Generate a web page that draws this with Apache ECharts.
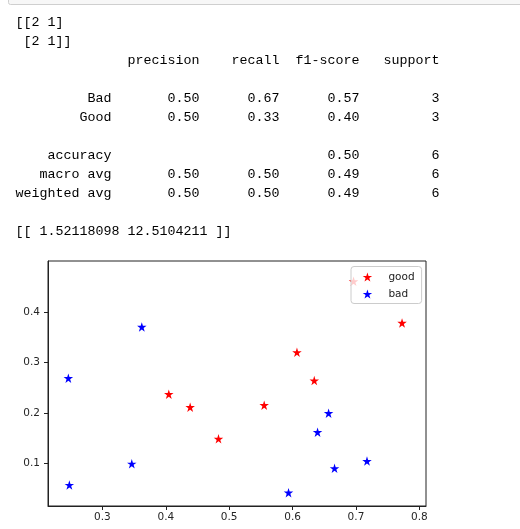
<!DOCTYPE html>
<html><head><meta charset="utf-8">
<script src="https://cdn.jsdelivr.net/npm/echarts@6/dist/echarts.min.js"></script>
<style>html,body{margin:0;padding:0;background:#fff;}#c{width:520px;height:529px;}</style>
</head><body><div id="c"></div>
<script>
// ---- console output values ----
const confusion = [[2, 1], [2, 1]];
const classLabels = ['Bad', 'Good'];
const precision = [0.50, 0.50];
const recall = [0.67, 0.33];
const f1 = [0.57, 0.40];
const support = [3, 3];
const accuracy = 0.50;
const macroAvg = [0.50, 0.50, 0.49];
const weightedAvg = [0.50, 0.50, 0.49];
const totalSupport = 6;
const coef = [1.52118098, 12.5104211];

// ---- scatter values ----
const goodX = [0.4047, 0.4384, 0.4831, 0.5552, 0.6069, 0.6342, 0.7727, 0.6962];
const goodY = [0.2375, 0.2118, 0.1493, 0.2158, 0.3203, 0.2645, 0.3783, 0.4606];
const badX = [0.3621, 0.2462, 0.3463, 0.2478, 0.6568, 0.6394, 0.7174, 0.6662, 0.5936];
const badY = [0.3704, 0.2690, 0.1000, 0.0580, 0.2000, 0.1625, 0.1053, 0.0909, 0.0428];
const xTicks = [0.3, 0.4, 0.5, 0.6, 0.7, 0.8];
const yTicks = [0.1, 0.2, 0.3, 0.4];
const seriesNames = ['good', 'bad'];

// ---- build console text lines ----
const f2 = v => v.toFixed(2);
const lines = [];
lines.push('[[' + confusion[0].join(' ') + ']');
lines.push(' [' + confusion[1].join(' ') + ']]');
lines.push(''.padStart(12) + ' ' + ['precision', 'recall', 'f1-score', 'support'].map(h => ' ' + h.padStart(9)).join(''));
lines.push('');
classLabels.forEach((lab, i) => {
  lines.push(lab.padStart(12) + ' ' + [precision[i], recall[i], f1[i]].map(v => ' ' + f2(v).padStart(9)).join('') + ' ' + String(support[i]).padStart(9));
});
lines.push('');
lines.push('accuracy'.padStart(12) + ' ' + ' ' + ''.padStart(9) + ' ' + ''.padStart(9) + ' ' + f2(accuracy).padStart(9) + ' ' + String(totalSupport).padStart(9));
lines.push('macro avg'.padStart(12) + ' ' + macroAvg.map(v => ' ' + f2(v).padStart(9)).join('') + ' ' + String(totalSupport).padStart(9));
lines.push('weighted avg'.padStart(12) + ' ' + weightedAvg.map(v => ' ' + f2(v).padStart(9)).join('') + ' ' + String(totalSupport).padStart(9));
lines.push('');
lines.push('[[ ' + coef.map(String).join(' ') + ' ]]');

const monoFont = '13.33px "Liberation Mono", "DejaVu Sans Mono", monospace';
const graphics = [
  { type: 'rect', shape: { x: 8.5, y: -20, width: 530, height: 24.5, r: 2 },
    style: { fill: '#f7f7f7', stroke: '#cfcfcf', lineWidth: 1 }, silent: true }
];
lines.forEach((t, i) => {
  if (!t) return;
  graphics.push({
    type: 'text', x: 15.5, y: 22.5 + 19 * i, silent: true,
    style: { text: t, font: monoFont, fill: '#000', align: 'left', verticalAlign: 'middle',
             textAlign: 'left', textVerticalAlign: 'middle' }
  });
});

const star = 'path://M50 0 L61.23 34.55 L97.55 34.55 L68.17 55.9 L79.39 90.45 L50 69.1 L20.61 90.45 L31.83 55.9 L2.45 34.55 L38.77 34.55 Z';
const axisColor = '#222';
const labelStyle = { fontSize: 10.5, fontFamily: 'DejaVu Sans', color: '#262626' };

const chart = echarts.init(document.getElementById('c'), null, { renderer: 'canvas' });
chart.setOption({
  animation: false,
  backgroundColor: '#fff',
  graphic: graphics,
  grid: { left: 48, top: 261, width: 378, height: 245, show: true, borderColor: axisColor, borderWidth: 1, backgroundColor: 'transparent' },
  xAxis: {
    type: 'value', min: 0.2141, max: 0.8105,
    splitLine: { show: false },
    axisLine: { show: true, onZero: false, lineStyle: { color: axisColor } },
    axisTick: { show: true, customValues: xTicks, length: 4, lineStyle: { color: axisColor } },
    axisLabel: Object.assign({ customValues: xTicks, margin: 6, formatter: v => v.toFixed(1) }, labelStyle)
  },
  yAxis: {
    type: 'value', min: 0.0165, max: 0.5007,
    splitLine: { show: false },
    axisLine: { show: true, onZero: false, lineStyle: { color: axisColor } },
    axisTick: { show: true, customValues: yTicks, length: 4, lineStyle: { color: axisColor } },
    axisLabel: Object.assign({ customValues: yTicks, margin: 8, formatter: v => v.toFixed(1) }, labelStyle)
  },
  legend: {
    data: seriesNames, orient: 'vertical', left: 351, top: 266.5,
    itemWidth: 32, itemHeight: 9, itemGap: 6, padding: [5, 7, 4, 11.7],
    backgroundColor: 'rgba(255,255,255,0.8)', borderColor: '#cccccc', borderWidth: 1, borderRadius: 3,
    textStyle: { fontSize: 10.5, fontFamily: 'DejaVu Sans', color: '#222' },
    selectedMode: false
  },
  series: [
    { name: seriesNames[0], type: 'scatter', symbol: star, symbolSize: 9.5,
      itemStyle: { color: '#ff0000', opacity: 1 }, emphasis: { disabled: true },
      data: goodX.map((x, i) => [x, goodY[i]]) },
    { name: seriesNames[1], type: 'scatter', symbol: star, symbolSize: 9.5,
      itemStyle: { color: '#0000ff', opacity: 1 }, emphasis: { disabled: true },
      data: badX.map((x, i) => [x, badY[i]]) }
  ]
});
</script>
</body></html>
